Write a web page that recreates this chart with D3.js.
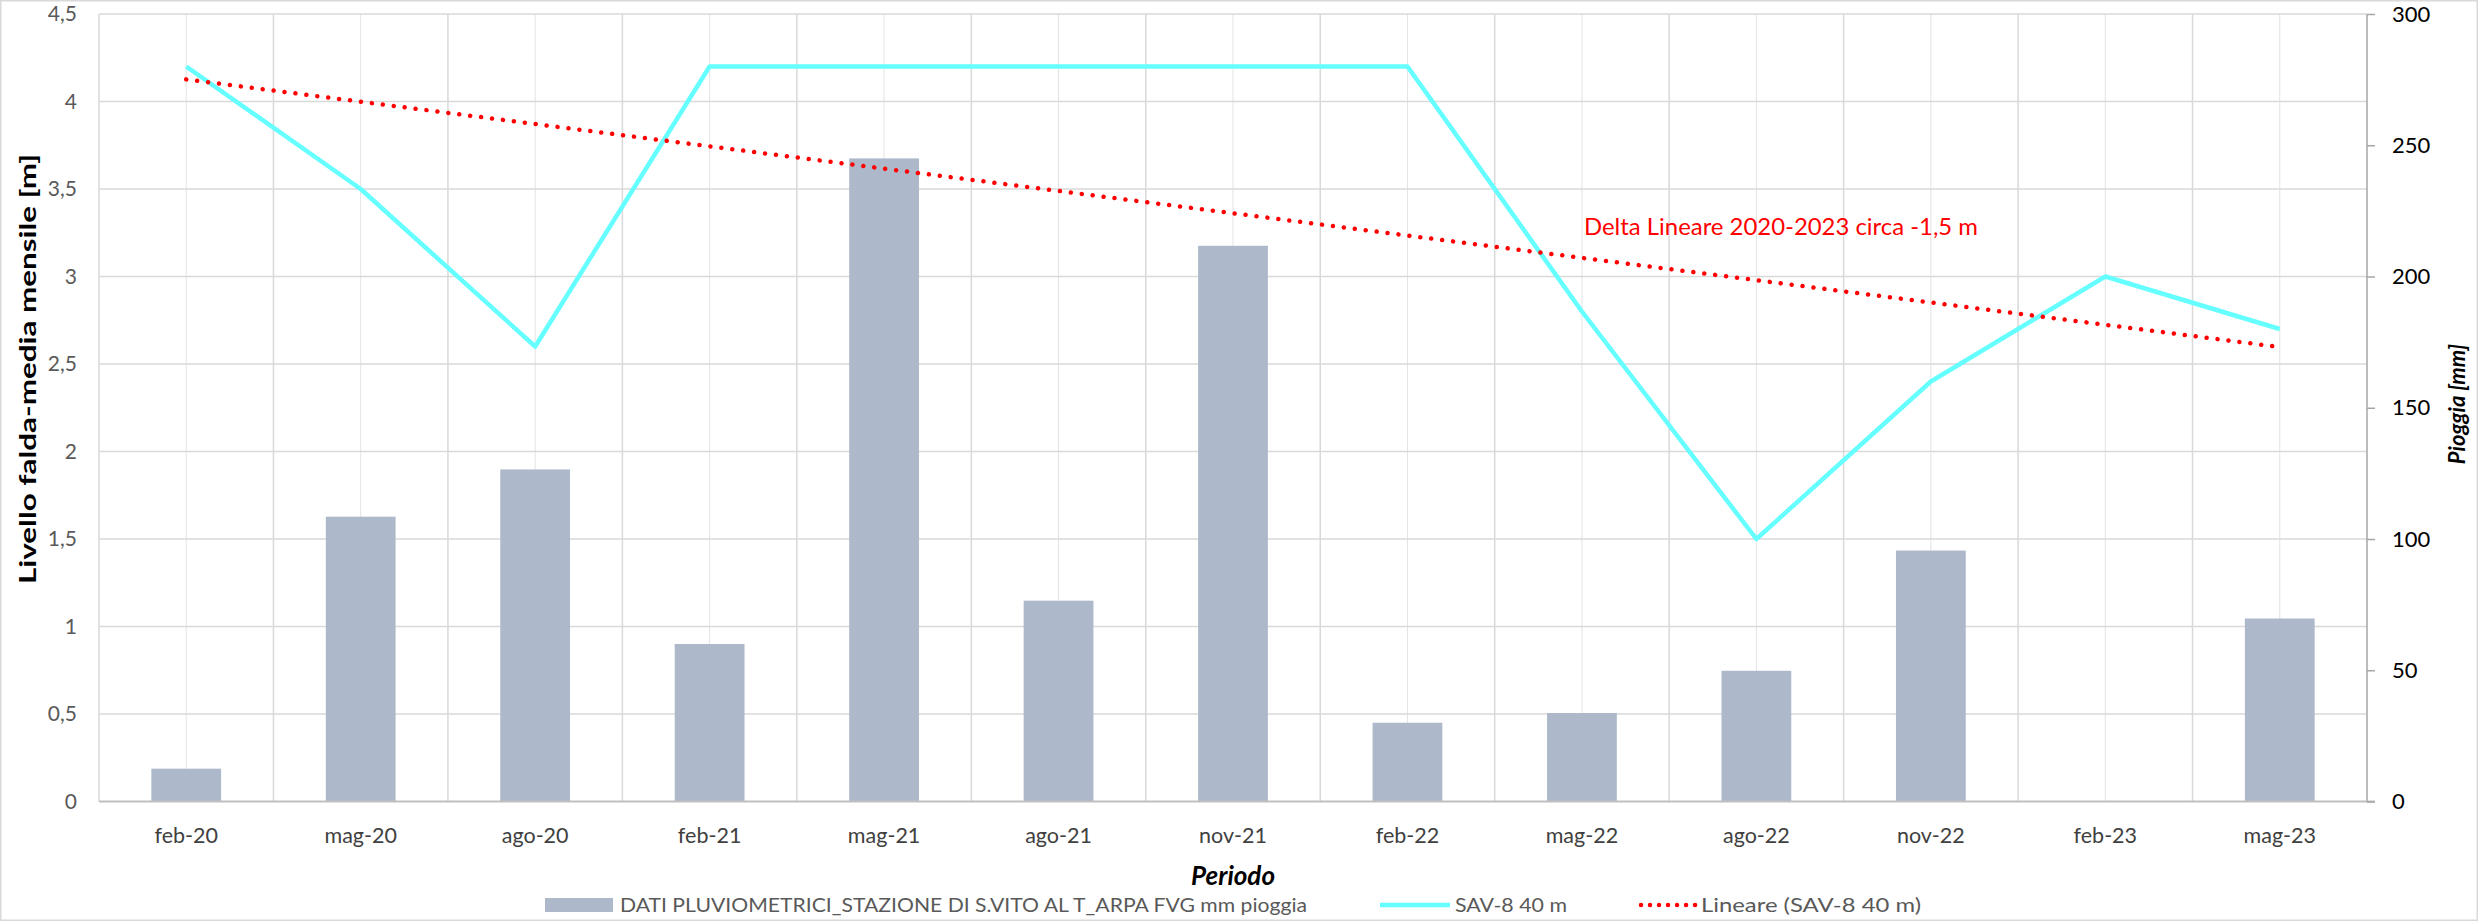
<!DOCTYPE html>
<html>
<head>
<meta charset="utf-8">
<script src="https://cdn.jsdelivr.net/npm/d3@7"></script>
<style>
  body { margin: 0; background: #fff; }
  svg { display: block; font-family: Lato, "Open Sans", sans-serif; }
</style>
</head>
<body>
<svg id="chart" width="2478" height="921"></svg>
<script>
const periods = ["feb-20", "mag-20", "ago-20", "feb-21", "mag-21", "ago-21", "nov-21", "feb-22", "mag-22", "ago-22", "nov-22", "feb-23", "mag-23"];
const rainMm = [12.5, 108.5, 126.5, 60, 245, 76.5, 211.7, 30, 33.7, 49.8, 95.6, 0, 69.7];
const levelM = [4.2, 3.5, 2.6, 4.2, 4.2, 4.2, 4.2, 4.2, 2.8, 1.5, 2.4, 3.0, 2.7];
const leftTicks = [0, 0.5, 1, 1.5, 2, 2.5, 3, 3.5, 4, 4.5];
const rightTicks = [0, 50, 100, 150, 200, 250, 300];
const rainLabel = "DATI PLUVIOMETRICI_STAZIONE DI S.VITO AL T_ARPA FVG mm pioggia";
const levelLabel = "SAV-8 40 m";
const trendLabel = "Lineare (SAV-8 40 m)";
const note = "Delta Lineare 2020-2023 circa -1,5 m";

const svg = d3.select("#chart");
const plotLeft = 99, plotRight = 2367, plotTop = 14, plotBottom = 801.5;
const comma = (v) => String(v).replace(".", ",");

const x = d3.scaleBand().domain(periods).range([plotLeft, plotRight]).paddingInner(0.6).paddingOuter(0.3);
const step = x.step();
const cx = (d) => x(d) + x.bandwidth() / 2;
const yL = d3.scaleLinear().domain([0, 4.5]).range([plotBottom, plotTop]);
const yR = d3.scaleLinear().domain([0, 300]).range([plotBottom, plotTop]);

// chart border
svg.append("rect").attr("x", 0.75).attr("y", 0.75).attr("width", 2476.5).attr("height", 919.5)
  .attr("fill", "none").attr("stroke", "#d9d9d9").attr("stroke-width", 1.5);

// gridlines: minor at category centres, major at boundaries
const grid = svg.append("g");
grid.selectAll("line.minor").data(periods).join("line").attr("class", "minor")
  .attr("x1", cx).attr("x2", cx).attr("y1", plotTop).attr("y2", plotBottom)
  .attr("stroke", "#e3e3e3").attr("stroke-width", 1);
grid.selectAll("line.major").data(d3.range(periods.length)).join("line").attr("class", "major")
  .attr("x1", (i) => plotLeft + i * step).attr("x2", (i) => plotLeft + i * step).attr("y1", plotTop).attr("y2", plotBottom)
  .attr("stroke", "#d9d9d9").attr("stroke-width", 1.5);
grid.selectAll("line.h").data(leftTicks.slice(1)).join("line").attr("class", "h")
  .attr("x1", plotLeft).attr("x2", plotRight).attr("y1", yL).attr("y2", yL)
  .attr("stroke", "#d9d9d9").attr("stroke-width", 1.5);

// rain bars
svg.append("g").selectAll("rect").data(periods).join("rect")
  .attr("x", (d) => x(d)).attr("width", x.bandwidth())
  .attr("y", (d, i) => yR(rainMm[i])).attr("height", (d, i) => plotBottom - yR(rainMm[i]))
  .attr("fill", "#adb9ca");

// axes
svg.append("line").attr("x1", plotLeft).attr("x2", plotRight + 8).attr("y1", plotBottom).attr("y2", plotBottom)
  .attr("stroke", "#bfbfbf").attr("stroke-width", 2);

const axisR = svg.append("g").attr("transform", `translate(${plotRight},0)`)
  .call(d3.axisRight(yR).tickValues(rightTicks).tickSize(8).tickPadding(17));
axisR.select(".domain").attr("stroke", "#a6a6a6").attr("stroke-width", 1.5).attr("d", `M0,${plotTop}V${plotBottom}`);
axisR.selectAll(".tick line").attr("stroke", "#a6a6a6").attr("stroke-width", 1.5);
axisR.selectAll(".tick text").attr("fill", "#000").attr("font-size", 22).attr("font-family", "Lato");

const axisL = svg.append("g").attr("transform", `translate(${plotLeft},0)`)
  .call(d3.axisLeft(yL).tickValues(leftTicks).tickFormat(comma).tickSize(0).tickPadding(22));
axisL.select(".domain").remove();
axisL.selectAll(".tick text").attr("fill", "#595959").attr("font-size", 21).attr("font-family", "Lato");

const axisB = svg.append("g").attr("transform", `translate(0,${plotBottom})`)
  .call(d3.axisBottom(x).tickSize(0).tickPadding(26));
axisB.select(".domain").remove();
axisB.selectAll(".tick text").attr("fill", "#404040").attr("font-size", 21.5).attr("font-family", "Lato");

// SAV-8 level line
const line = d3.line().x((d, i) => cx(periods[i])).y((d) => yL(d));
svg.append("path").datum(levelM).attr("d", line)
  .attr("fill", "none").attr("stroke", "#66ffff").attr("stroke-width", 4.5).attr("stroke-linejoin", "round");

// linear trendline (least squares on category index)
const idx = levelM.map((_, i) => i);
const mx = d3.mean(idx), my = d3.mean(levelM);
const slope = d3.sum(idx, (i) => (i - mx) * (levelM[i] - my)) / d3.sum(idx, (i) => (i - mx) ** 2);
const trend = idx.map((i) => my + slope * (i - mx));
svg.append("path").datum(trend).attr("d", line)
  .attr("fill", "none").attr("stroke", "#ff0000").attr("stroke-width", 4.5)
  .attr("stroke-linecap", "round").attr("stroke-dasharray", "0.01 11");

svg.append("text").attr("x", 1584).attr("y", 235).attr("fill", "#ff0000")
  .attr("font-size", 23).attr("textLength", 394).attr("lengthAdjust", "spacingAndGlyphs").text(note);

// axis titles
svg.append("text").attr("transform", "translate(36,369) rotate(-90)").attr("text-anchor", "middle")
  .attr("font-size", 22).attr("font-weight", "bold").attr("textLength", 430).attr("lengthAdjust", "spacingAndGlyphs")
  .text("Livello falda-media mensile [m]");
svg.append("text").attr("transform", "translate(2465,404) rotate(-90)").attr("text-anchor", "middle")
  .attr("font-size", 22).attr("font-weight", "bold").attr("font-style", "italic").text("Pioggia [mm]");
svg.append("text").attr("x", (plotLeft + plotRight) / 2).attr("y", 885).attr("text-anchor", "middle")
  .attr("font-size", 26).attr("font-weight", "bold").attr("font-style", "italic").text("Periodo");

// legend
const lg = svg.append("g").attr("font-size", 20).attr("fill", "#595959");
lg.append("rect").attr("x", 545).attr("y", 898).attr("width", 68).attr("height", 14).attr("fill", "#adb9ca");
lg.append("text").attr("x", 620).attr("y", 912).attr("textLength", 687).attr("lengthAdjust", "spacingAndGlyphs").text(rainLabel);
lg.append("line").attr("x1", 1380).attr("x2", 1450).attr("y1", 905).attr("y2", 905)
  .attr("stroke", "#66ffff").attr("stroke-width", 4.5);
lg.append("text").attr("x", 1455).attr("y", 912).attr("textLength", 112).attr("lengthAdjust", "spacingAndGlyphs").text(levelLabel);
lg.append("line").attr("x1", 1641).attr("x2", 1697).attr("y1", 905).attr("y2", 905)
  .attr("stroke", "#ff0000").attr("stroke-width", 4.5).attr("stroke-linecap", "round").attr("stroke-dasharray", "0.01 9");
lg.append("text").attr("x", 1701).attr("y", 912).attr("textLength", 220).attr("lengthAdjust", "spacingAndGlyphs").text(trendLabel);
</script>
</body>
</html>
